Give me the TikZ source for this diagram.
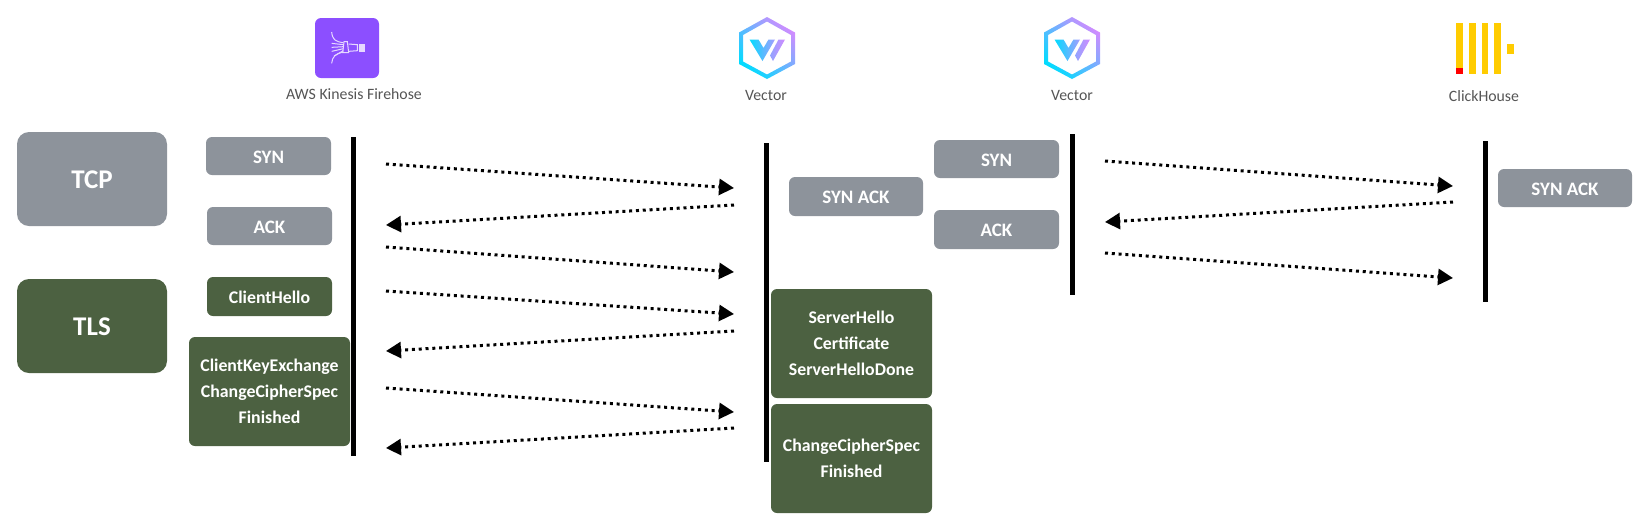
\documentclass[tikz,border=0pt]{standalone}
\usepackage{fontspec}
\setmainfont{Carlito}
\usetikzlibrary{arrows.meta}
\definecolor{tcpgrey}{HTML}{8D939B}
\definecolor{tlsgreen}{HTML}{4C6141}
\definecolor{labelgrey}{HTML}{555555}
\definecolor{hexcyan}{HTML}{00DCFF}
\definecolor{hexpurple}{HTML}{D08CFF}
\definecolor{fhpurple}{HTML}{8C4FFF}
\definecolor{fhline}{HTML}{E6D8FF}
\definecolor{chyellow}{HTML}{FFCC00}
\tikzset{
  x=0.5pt,y=-0.5pt,
  lift/.style={execute at begin node={\rule{0pt}{#1}}},
  msgbox/.style={rounded corners=3pt,inner sep=0pt,outer sep=0pt,align=center,text=white,
    lift=7.2pt,
    font=\fontsize{9.5}{13}\selectfont\bfseries},
  greybox/.style={msgbox,fill=tcpgrey},
  greenbox/.style={msgbox,fill=tlsgreen},
  longtext/.style={font=\fontsize{8.9}{13}\selectfont\bfseries},
  bigbox/.style={rounded corners=6pt,lift=9.8pt,font=\fontsize{13.5}{15}\selectfont\bfseries},
  small/.style={minimum width=62.5pt,minimum height=19pt},
  wide/.style={minimum width=67pt,minimum height=19.5pt},
  block/.style={minimum width=80.5pt,minimum height=54.5pt,longtext,lift=9.5pt},
  big/.style={minimum width=75pt,minimum height=47pt},
  lifeline/.style={line width=2.5pt,black},
  msg/.style={line width=1.5pt,black,dash pattern=on 1.5pt off 1.9pt,
    -{Triangle[length=7.5pt,width=8pt,sep=0pt]}},
  actor/.style={text=labelgrey,inner sep=0pt,font=\fontsize{7.9}{10}\selectfont},
}
\begin{document}
\begin{tikzpicture}
\useasboundingbox (0,0) rectangle (1640,526);
% boxes
\node[greybox,bigbox,big] (tcp) at (92,179) {TCP};
\node[greenbox,bigbox,big] (tls) at (92,326) {TLS};
\node[greybox,small] (syn1) at (268.5,156) {SYN};
\node[greybox,small] (ack1) at (269.5,226) {ACK};
\node[greenbox,small,minimum height=19.5pt,longtext] (chello) at (269.5,296.5) {ClientHello};
\node[greenbox,block] (cke) at (269.5,391.5) {ClientKeyExchange\\ChangeCipherSpec\\Finished};
\node[greybox,wide] (synack1) at (856,196.5) {SYN ACK};
\node[greybox,small] (syn2) at (996.5,159) {SYN};
\node[greybox,small,minimum height=19.5pt] (ack2) at (996.5,229.5) {ACK};
\node[greenbox,block] (shello) at (851.5,343.5) {ServerHello\\Certificate\\ServerHelloDone};
\node[greenbox,block] (ccs) at (851.5,458.5) {ChangeCipherSpec\\Finished};
\node[greybox,wide,minimum height=19pt] (synack2) at (1565,188) {SYN ACK};
% lifelines
\coordinate (la) at (353.5,137); \coordinate (lb) at (353.5,456);
\coordinate (lc) at (766.5,143); \coordinate (ld) at (766.5,462);
\coordinate (le) at (1072.5,134); \coordinate (lf) at (1072.5,295);
\coordinate (lg) at (1485.5,141); \coordinate (lh) at (1485.5,302);
\draw[lifeline] (la) -- (lb);
\draw[lifeline] (lc) -- (ld);
\draw[lifeline] (le) -- (lf);
\draw[lifeline] (lg) -- (lh);
% messages, first pair of actors
\coordinate (a1) at (386,164); \coordinate (b1) at (734,188);
\coordinate (b2) at (734,205); \coordinate (a2) at (386,225);
\coordinate (a3) at (386,247); \coordinate (b3) at (734,272);
\coordinate (a4) at (386,291); \coordinate (b4) at (734,314);
\coordinate (b5) at (734,331); \coordinate (a5) at (386,351);
\coordinate (a6) at (386,388); \coordinate (b6) at (734,412);
\coordinate (b7) at (734,428); \coordinate (a7) at (386,448);
\draw[msg] (a1) -- (b1);
\draw[msg] (b2) -- (a2);
\draw[msg] (a3) -- (b3);
\draw[msg] (a4) -- (b4);
\draw[msg] (b5) -- (a5);
\draw[msg] (a6) -- (b6);
\draw[msg] (b7) -- (a7);
% messages, second pair of actors
\coordinate (c1) at (1105,161); \coordinate (d1) at (1453,186);
\coordinate (d2) at (1453,202); \coordinate (c2) at (1105,222);
\coordinate (c3) at (1105,253); \coordinate (d3) at (1453,278);
\draw[msg] (c1) -- (d1);
\draw[msg] (d2) -- (c2);
\draw[msg] (c3) -- (d3);
% Firehose icon
\fill[fhpurple,rounded corners=3pt] (315,18) rectangle (379,78);
\begin{scope}[shift={(260,0)},x=0.1667pt,y=-0.1667pt,line width=0.5pt,draw=fhline]
  \draw (215,96) .. controls (217,118) and (225,125) .. (250,128);
  \draw (215,190) .. controls (217,170) and (225,162) .. (250,156);
  \draw (215,130) -- (250,134);
  \draw (215,142) -- (250,140);
  \draw (215,154) -- (250,146);
  \draw (222,168) -- (250,152);
  \draw (252,125) -- (262,125) -- (266,158) -- (248,158) -- cycle;
  \draw (266,132) -- (292,134) -- (292,152) -- (266,154);
  \fill[fhline] (296,133) rectangle (315,155);
\end{scope}
% Vector icons
\foreach \cx/\nm in {767/v1,1072/v2}{
  \begin{scope}[shift={(\cx,0)}]
    \shade[even odd rule,left color=hexcyan,right color=hexpurple,shading angle=135]
      (0,17) -- (28,32.5) -- (28,64) -- (0,79) -- (-28,64) -- (-28,32.5) -- cycle
      (0,21.5) -- (24,35) -- (24,61.5) -- (0,74.5) -- (-24,61.5) -- (-24,35) -- cycle;
    \shade[left color=hexcyan,right color=hexpurple!80!hexcyan]
      (-17.5,39.5) -- (-8.5,39.5) -- (-3.5,48) -- (1.5,39.5) -- (8,39.5) -- (-4.5,61) -- cycle;
    \shade[left color=hexpurple!70!hexcyan,right color=hexpurple]
      (11.5,39.5) -- (18,39.5) -- (6,61) -- (3,55.5) -- cycle;
  \end{scope}
}
% ClickHouse icon
\fill[chyellow] (1456,23) rectangle (1463,74);
\fill[red] (1456,68) rectangle (1463,74);
\fill[chyellow] (1469,23) rectangle (1476,74);
\fill[chyellow] (1482,23) rectangle (1488,74);
\fill[chyellow] (1494,23) rectangle (1501,74);
\fill[chyellow] (1507,44) rectangle (1514,54);
% actor names
\node[actor] (firehose) at (354,94) {AWS Kinesis Firehose};
\node[actor] (vector1) at (766,95) {Vector};
\node[actor] (vector2) at (1072,95) {Vector};
\node[actor] (clickhouse) at (1484,96) {ClickHouse};
\end{tikzpicture}
\end{document}
